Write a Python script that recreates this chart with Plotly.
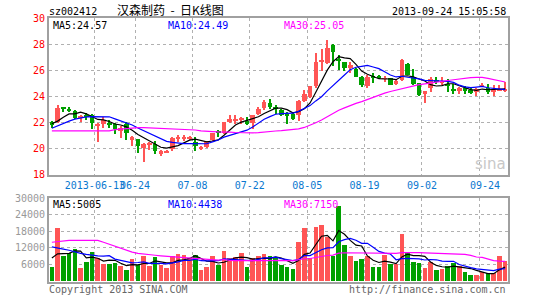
import plotly.graph_objects as go

# ---------------- data ----------------
dates = [
    "2013-05-29", "2013-05-30", "2013-05-31",
    "2013-06-03", "2013-06-04", "2013-06-05", "2013-06-06", "2013-06-07",
    "2013-06-13", "2013-06-14", "2013-06-17", "2013-06-18", "2013-06-19", "2013-06-20", "2013-06-21",
    "2013-06-24", "2013-06-25", "2013-06-26", "2013-06-27", "2013-06-28",
    "2013-07-01", "2013-07-02", "2013-07-03", "2013-07-04", "2013-07-05",
    "2013-07-08", "2013-07-09", "2013-07-10", "2013-07-11", "2013-07-12",
    "2013-07-15", "2013-07-16", "2013-07-17", "2013-07-18", "2013-07-19",
    "2013-07-22", "2013-07-23", "2013-07-24", "2013-07-25", "2013-07-26",
    "2013-07-29", "2013-07-30", "2013-07-31", "2013-08-01", "2013-08-02",
    "2013-08-05", "2013-08-06", "2013-08-07", "2013-08-08", "2013-08-09",
    "2013-08-12", "2013-08-13", "2013-08-14", "2013-08-15", "2013-08-16",
    "2013-08-19", "2013-08-20", "2013-08-21", "2013-08-22", "2013-08-23",
    "2013-08-26", "2013-08-27", "2013-08-28", "2013-08-29", "2013-08-30",
    "2013-09-02", "2013-09-03", "2013-09-04", "2013-09-05", "2013-09-06",
    "2013-09-09", "2013-09-10", "2013-09-11", "2013-09-12", "2013-09-13",
    "2013-09-16", "2013-09-17", "2013-09-18", "2013-09-23", "2013-09-24",
]

open_ = [22.0, 22.0, 23.2, 23.05, 22.9, 22.35, 22.5, 22.6, 21.72, 21.85,
         21.95, 21.85, 21.4, 21.85, 20.65, 20.72, 20.05, 20.3, 20.38, 19.6,
         19.72, 20.0, 20.8, 20.8, 20.75, 20.5, 19.95, 20.12, 20.62, 21.35,
         21.2, 22.02, 22.08, 22.23, 22.13, 21.95, 22.65, 23.08, 23.5, 23.16,
         22.98, 22.6, 22.62, 22.6, 23.66, 23.95, 24.8, 26.65, 26.55, 27.9,
         26.8, 26.65, 26.2, 26.1, 25.5, 24.8, 25.55, 25.55, 25.33, 25.37,
         24.95, 25.25, 26.5, 25.5, 25.0, 24.15, 24.6, 25.2, 25.05, 24.95,
         24.57, 24.44, 24.62, 24.45, 24.35, 24.75, 24.62, 24.32, 24.45, 24.45]
high = [22.1, 23.35, 23.2, 23.2, 22.98, 22.55, 22.75, 22.65, 21.95, 22.4,
        22.15, 21.95, 21.7, 22.0, 20.95, 20.75, 20.4, 20.5, 20.6, 19.85,
        19.9, 20.85, 21.05, 21.0, 20.95, 20.9, 20.2, 20.55, 21.2, 21.42,
        22.05, 22.6, 22.6, 22.4, 22.43, 22.6, 23.2, 23.72, 23.8, 23.36,
        23.05, 22.82, 22.75, 23.69, 24.5, 24.8, 27.32, 27.65, 28.3, 28.0,
        27.15, 26.65, 26.6, 26.15, 25.55, 25.6, 25.8, 25.65, 25.57, 25.4,
        25.25, 26.85, 26.55, 26.1, 25.05, 24.42, 25.45, 25.5, 25.45, 25.3,
        24.95, 24.7, 24.8, 24.6, 24.6, 25.0, 24.94, 24.87, 24.87, 25.07]
low = [21.6, 21.95, 22.8, 22.8, 22.3, 22.0, 22.2, 21.5, 20.5, 21.6,
       21.6, 21.15, 20.8, 20.65, 20.2, 19.65, 19.0, 19.9, 19.55, 19.45,
       19.65, 19.8, 20.5, 20.6, 20.65, 19.8, 19.85, 20.05, 20.55, 20.88,
       21.1, 21.95, 21.9, 21.9, 21.8, 21.5, 22.6, 22.98, 23.0, 22.62,
       22.5, 21.9, 22.2, 22.1, 23.6, 23.85, 24.62, 25.95, 26.45, 26.35,
       26.0, 25.95, 25.75, 25.45, 24.7, 24.6, 25.05, 25.3, 25.12, 24.85,
       24.9, 25.2, 25.6, 24.87, 24.0, 23.45, 24.3, 24.95, 24.87, 24.3,
       24.15, 24.15, 24.15, 24.2, 24.0, 24.7, 24.2, 24.06, 24.45, 24.31]
close = [21.8, 23.1, 23.1, 22.9, 22.35, 22.5, 22.45, 21.95, 21.9, 22.2,
         21.85, 21.5, 21.55, 21.2, 20.9, 20.2, 20.35, 20.35, 19.8, 19.8,
         19.82, 20.8, 20.88, 20.85, 20.85, 20.2, 20.15, 20.52, 21.17, 21.25,
         22.02, 22.25, 22.3, 22.3, 21.9, 22.6, 23.06, 23.53, 23.2, 23.1,
         22.55, 22.52, 22.3, 23.67, 24.18, 24.78, 26.65, 26.72, 27.7, 27.4,
         26.72, 26.2, 26.4, 25.5, 24.85, 25.5, 25.45, 25.45, 25.38, 24.9,
         25.2, 26.75, 25.65, 24.95, 24.1, 24.4, 25.35, 25.15, 25.1, 24.82,
         24.4, 24.6, 24.4, 24.32, 24.57, 24.9, 24.32, 24.5, 24.55, 24.58]
volume = [4850, 19040, 9000, 10150, 11430, 4500, 6920, 10390, 8080, 6230,
          6230, 6580, 5190, 3810, 7960, 5770, 9000, 5190, 8650, 5540,
          4500, 9120, 9690, 9350, 8310, 9460, 3810, 4850, 9000, 5540,
          10850, 8200, 8540, 10040, 4850, 8080, 9000, 9690, 9000, 8080,
          5890, 4960, 4270, 13960, 19160, 8310, 19500, 20200, 15690, 9120,
          27000, 12810, 9000, 7040, 7730, 8880, 4960, 4960, 9350, 6230,
          6000, 17080, 10040, 6690, 6350, 4620, 6690, 3920, 4270, 5420,
          6580, 5420, 3120, 2080, 2080, 3350, 2770, 2950, 9050, 7150]

# moving-average values at the left edge (history before the window)
ma5_head = [21.9, 22.1, 22.4, 22.65]
ma10_head = [21.55, 21.75, 21.95, 22.1, 22.25, 22.35, 22.42, 22.45, 22.45]
ma30_head = [21.35, 21.35, 21.35, 21.35, 21.35, 21.35, 21.35, 21.35, 21.3, 21.3,
             21.35, 21.45, 21.5, 21.55, 21.6, 21.6, 21.6, 21.58, 21.55, 21.52,
             21.5, 21.47, 21.45, 21.45, 21.45, 21.42, 21.35, 21.3, 21.3]
vma5_head = [8350, 9850, 9950, 10050]
vma10_head = [12350, 12050, 11550, 11150, 10550, 10050, 9650, 9350, 9150]
vma30_head = [14050, 14350, 14650, 14750, 14750, 14750, 14750, 14750, 14750, 14050,
              13350, 12550, 11850, 11050, 10450, 10050, 9750, 9550, 9350, 9150,
              9000, 8850, 8700, 8550, 8450, 8150, 8000, 7850, 7700]

grid_dates = ["2013-06-13", "2013-06-24", "2013-07-08", "2013-07-22",
              "2013-08-05", "2013-08-19", "2013-09-02", "2013-09-16"]
grid_labels = ["2013-06-13", "06-24", "07-08", "07-22", "08-05", "08-19", "09-02", ""]
last_label = "09-24"

price_ticks = [18, 20, 22, 24, 26, 28, 30]
vol_ticks = [6000, 12000, 18000, 24000, 30000]

title_code = "sz002412"
title_name = "汉森制药\u00a0\u00a0-\u00a0\u00a0日K线图"
timestamp = "2013-09-24 15:05:58"
ma_price_text = ["MA5:24.57", "MA10:24.49", "MA30:25.05"]
ma_vol_text = ["MA5:5005", "MA10:4438", "MA30:7150"]

# ---------------- helpers ----------------
W, H = 545, 300
L, R, T, B = 49, 508, 18, 286
UP, DOWN = "#ff5555", "#00a000"
MONO = "DejaVu Sans Mono"


def moving_avg(vals, n, head):
    out = []
    for i in range(len(vals)):
        if i < n - 1:
            out.append(head[i])
        else:
            out.append(sum(vals[i - n + 1:i + 1]) / n)
    return out


def px(xp):
    return (xp - L) / (R - L)


def py(yp):
    return (B - yp) / (B - T)


x = list(range(len(dates)))
colors = [UP if c >= o else DOWN for o, c in zip(open_, close)]
body_base = [min(o, c) for o, c in zip(open_, close)]
body_h = [max(abs(c - o), 0.07) for o, c in zip(open_, close)]
wick_h = [h - l for h, l in zip(high, low)]
grid_pos = [dates.index(d) - 0.5 for d in grid_dates]

fig = go.Figure()

# wicks and bodies
fig.add_trace(go.Bar(x=x, y=wick_h, base=low, width=0.18, marker=dict(color=colors, line=dict(width=0)),
                     xaxis="x", yaxis="y", hoverinfo="skip", showlegend=False))
fig.add_trace(go.Bar(x=x, y=body_h, base=body_base, width=0.8, marker=dict(color=colors, line=dict(width=0)),
                     xaxis="x", yaxis="y", hoverinfo="skip", showlegend=False))

for n, head, col in [(5, ma5_head, "#000000"), (10, ma10_head, "#0000ff"), (30, ma30_head, "#ff00ff")]:
    fig.add_trace(go.Scatter(x=x, y=moving_avg(close, n, head), mode="lines",
                             line=dict(color=col, width=1.2), xaxis="x", yaxis="y",
                             hoverinfo="skip", showlegend=False))

# volume
fig.add_trace(go.Bar(x=x, y=volume, width=0.8, marker=dict(color=colors, line=dict(width=0)),
                     xaxis="x2", yaxis="y2", hoverinfo="skip", showlegend=False))
for n, head, col in [(5, vma5_head, "#000000"), (10, vma10_head, "#0000ff"), (30, vma30_head, "#ff00ff")]:
    fig.add_trace(go.Scatter(x=x, y=moving_avg(volume, n, head), mode="lines",
                             line=dict(color=col, width=1.2), xaxis="x2", yaxis="y2",
                             hoverinfo="skip", showlegend=False))

frame = dict(showline=True, mirror=True, linecolor="#a0a0a0", linewidth=2, zeroline=False, ticks="")
grid = dict(showgrid=True, gridcolor="#b0b0b0", griddash="dot", gridwidth=1)

vol_top = 201
fig.update_layout(
    width=W, height=H,
    margin=dict(l=L, r=W - R, t=T, b=H - B, pad=0),
    paper_bgcolor="white", plot_bgcolor="white",
    barmode="overlay", bargap=0,
    font=dict(family=MONO, size=10, color="#000"),
    xaxis=dict(domain=[0, 1], anchor="y", range=[-0.5, len(dates) - 0.5],
               tickmode="array", tickvals=grid_pos, ticktext=grid_labels, tickangle=0,
               tickfont=dict(family=MONO, size=10, color="#0a78d0"), **frame, **grid),
    yaxis=dict(domain=[py(177), 1], anchor="x", range=[18, 30], tickmode="array",
               tickvals=price_ticks, ticktext=[str(v) for v in price_ticks],
               tickfont=dict(family=MONO, size=10, color="#ff0000"), **frame, **grid),
    xaxis2=dict(domain=[0, 1], anchor="y2", range=[-0.5, len(dates) - 0.5],
                tickmode="array", tickvals=grid_pos, showticklabels=False, **frame, **grid),
    yaxis2=dict(domain=[0, py(vol_top)], anchor="x2", range=[-30000 / 84, 30000],
                tickmode="array", tickvals=vol_ticks, ticktext=[str(v) for v in vol_ticks],
                tickfont=dict(family=MONO, size=10, color="#999999"), **frame, **grid),
)

ann = []


def text(t, xp, yp, color="#000", size=10, anchor="left", family=MONO):
    ann.append(dict(text=t, x=px(xp), y=py(yp), xref="paper", yref="paper", showarrow=False,
                    xanchor=anchor, yanchor="middle", font=dict(family=family, size=size, color=color)))


text(title_code, 47, 11)
text(title_name, 115, 9.5, size=12, family="Noto Sans CJK SC")
text(timestamp, 508, 11, anchor="right")
for t, xp, col in zip(ma_price_text, [51, 166, 282], ["#000000", "#0000ff", "#ff00ff"]):
    text(t, xp, 25.5, color=col)
for t, xp, col in zip(ma_vol_text, [51, 166, 282], ["#000000", "#0000ff", "#ff00ff"]):
    text(t, xp, 207, color=col)
text("Copyright 2013 SINA.COM", 47, 294, color="#666666")
text("http://finance.sina.com.cn", 508, 294, color="#666666", anchor="right")
text("sina", 508, 166, color="#c8c8c8", size=15, anchor="right", family="DejaVu Sans")
ann.append(dict(text=last_label, x=len(dates) - 1, y=py(177), xref="x", yref="paper", yanchor="top",
                xanchor="right", xshift=-3, yshift=-3,
                showarrow=False, font=dict(family=MONO, size=10, color="#0a78d0")))
fig.update_layout(annotations=ann)

fig.write_html("out.html")
